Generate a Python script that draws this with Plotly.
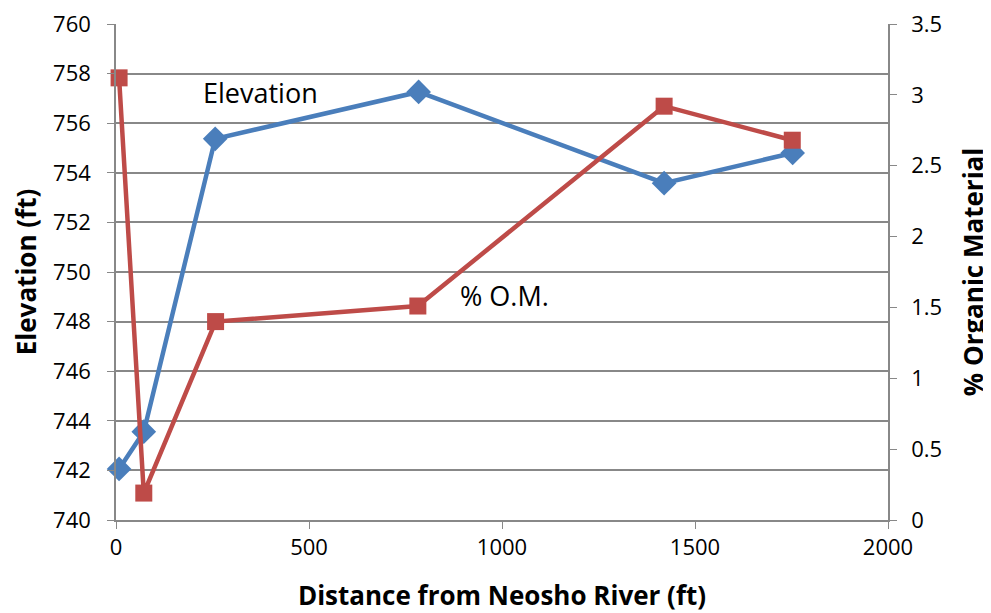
import plotly.graph_objects as go

distance = [8, 72, 257, 784, 1420, 1753]
elevation = [742.06, 743.56, 755.37, 757.26, 753.58, 754.8]
om_distance = [8, 72, 258, 782, 1420, 1752]
organic_pct = [3.12, 0.19, 1.40, 1.51, 2.92, 2.68]

BLUE = "#4A7EBB"
RED = "#BE4B48"
GRID = "#888888"
FONT = "Open Sans, Liberation Sans, Arial, sans-serif"

fig = go.Figure()
fig.add_trace(go.Scatter(
    x=distance, y=elevation, mode="lines+markers", name="Elevation",
    line=dict(color=BLUE, width=4.5),
    marker=dict(symbol="diamond", size=19, color=BLUE),
    yaxis="y", cliponaxis=False,
))
fig.add_trace(go.Scatter(
    x=om_distance, y=organic_pct, mode="lines+markers", name="% O.M.",
    line=dict(color=RED, width=4.5),
    marker=dict(symbol="square", size=17, color=RED),
    yaxis="y2", cliponaxis=False,
))

fig.update_layout(
    width=983, height=605,
    margin=dict(l=108, r=103, t=16, b=93, autoexpand=False),
    paper_bgcolor="white", plot_bgcolor="white",
    showlegend=False,
    font=dict(family=FONT, size=22, color="black"),
    xaxis=dict(
        range=[0, 2000], tickvals=[0, 500, 1000, 1500, 2000],
        showgrid=False, showline=True, linecolor=GRID, linewidth=1.5,
        ticks="outside", ticklen=7, tickcolor=GRID, zeroline=False,
        ticklabeloverflow="allow", automargin=False,
        title=dict(text="<b>Distance from Neosho River (ft)</b>",
                   font=dict(size=26), standoff=27),
    ),
    yaxis=dict(
        range=[740, 760], dtick=2,
        showgrid=True, gridcolor=GRID, gridwidth=1.5,
        showline=True, linecolor=GRID, linewidth=1.5,
        ticks="outside", ticklen=7, tickcolor=GRID, zeroline=False,
        ticklabeloverflow="allow", ticklabelstandoff=12, automargin=False,
        title=dict(text="<b>Elevation (ft)</b>", font=dict(size=26), standoff=13),
    ),
    yaxis2=dict(
        range=[0, 3.5], dtick=0.5, overlaying="y", side="right",
        showgrid=False, showline=True, linecolor=GRID, linewidth=1.5,
        ticks="outside", ticklen=7, tickcolor=GRID, zeroline=False,
        ticklabeloverflow="allow", ticklabelstandoff=10, automargin=False,
        title=dict(text="<b>% Organic Material</b>", font=dict(size=26), standoff=26),
    ),
    annotations=[
        dict(x=220, y=757.25, xref="x", yref="y", text="Elevation", showarrow=False,
             xanchor="left", yanchor="middle", font=dict(size=27)),
        dict(x=886, y=749.05, xref="x", yref="y", text="% O.M.", showarrow=False,
             xanchor="left", yanchor="middle", font=dict(size=27)),
    ],
)

fig.write_html("out.html")
